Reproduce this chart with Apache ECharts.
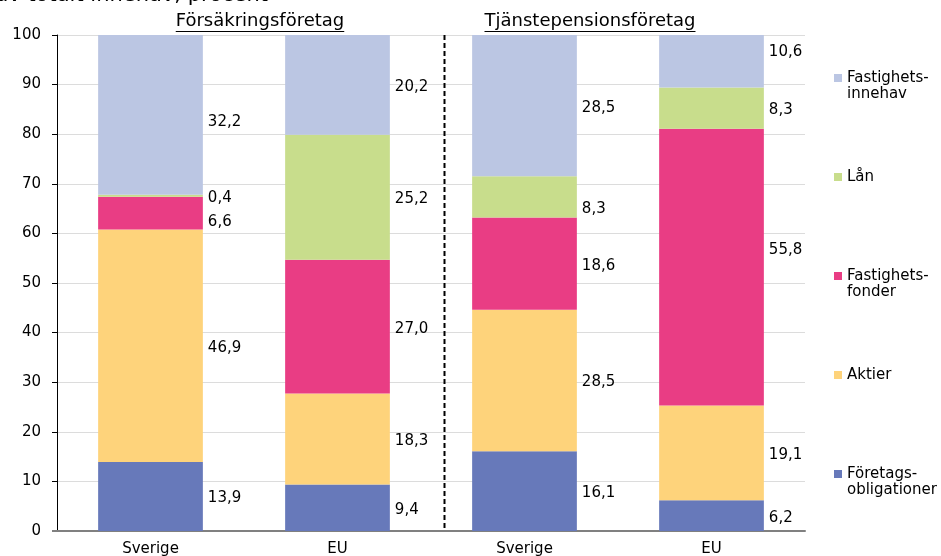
<!DOCTYPE html>
<html>
<head>
<meta charset="utf-8">
<script src="https://cdn.jsdelivr.net/npm/echarts@6/dist/echarts.min.js"></script>
<style>
  html, body { margin: 0; padding: 0; background: #fff; }
  #chart { width: 941px; height: 556px; }
</style>
</head>
<body>
<div id="chart"></div>
<script>
// Andel av totalt innehav, procent — försäkrings- och tjänstepensionsföretag
const categories = ['Sverige', 'EU', 'Sverige', 'EU'];
const groupTitles = ['Försäkringsföretag', 'Tjänstepensionsföretag'];
const yTicks = [0, 10, 20, 30, 40, 50, 60, 70, 80, 90, 100];

const foretagsobligationer = [13.9, 9.4, 16.1, 6.2];
const aktier = [46.9, 18.3, 28.5, 19.1];
const fastighetsfonder = [6.6, 27.0, 18.6, 55.8];
const lan = [0.4, 25.2, 8.3, 8.3];
const fastighetsinnehav = [32.2, 20.2, 28.5, 10.6];

const FONT = '"DejaVu Sans", Verdana, sans-serif';

// label nudges (px) so neighbouring value labels do not collide
const labelShift = {
  'Fastighetsfonder': [9, 2, 2, -17],
  'Lån': [2, 2, 12, 2],
  'Fastighetsinnehav': [7, 2, 2, -9]
};

function fmt(v) { return v.toFixed(1).replace('.', ','); }

function makeSeries(name, values, color) {
  const shifts = labelShift[name] || [2, 2, 2, 2];
  return {
    name: name,
    type: 'bar',
    stack: 'total',
    barWidth: '56%',
    itemStyle: { color: color },
    data: values.map((v, i) => ({
      value: v,
      label: { offset: [0, shifts[i]] }
    })),
    label: {
      show: true,
      position: 'right',
      distance: 5,
      color: '#000',
      fontFamily: FONT,
      fontSize: 15,
      formatter: p => fmt(p.value)
    }
  };
}

const chart = echarts.init(document.getElementById('chart'), null, { renderer: 'canvas' });

// legend labels: a leading blank line keeps the marker level with the first line
const legendText = {
  'Fastighetsinnehav': '\nFastighets-\ninnehav',
  'Fastighetsfonder': '\nFastighets-\nfonder',
  'Företagsobligationer': '\nFöretags-\nobligationer'
};

const option = {
  animation: false,
  backgroundColor: '#fff',
  grid: { left: 57, right: 136, top: 35, bottom: 25, containLabel: false, outerBoundsMode: 'none' },
  legend: {
    orient: 'vertical',
    left: 829,
    top: 49,
    itemWidth: 8,
    itemHeight: 8,
    itemGap: 67,
    icon: 'rect',
    textStyle: { fontFamily: FONT, fontSize: 15, color: '#000', lineHeight: 16 },
    selectedMode: false,
    data: ['Fastighetsinnehav', 'Lån', 'Fastighetsfonder', 'Aktier', 'Företagsobligationer'],
    formatter: name => legendText[name] || name
  },
  xAxis: {
    type: 'category',
    data: categories,
    axisLine: { show: true, lineStyle: { color: '#808080', width: 2 } },
    axisTick: { show: false },
    axisLabel: { color: '#000', fontFamily: FONT, fontSize: 15, margin: 11, interval: 0 },
    splitLine: { show: false }
  },
  yAxis: {
    type: 'value',
    min: yTicks[0],
    max: yTicks[yTicks.length - 1],
    interval: 10,
    axisLine: { show: true, lineStyle: { color: '#000', width: 1 } },
    axisTick: { show: true, length: 5, lineStyle: { color: '#000' } },
    axisLabel: { color: '#000', fontFamily: FONT, fontSize: 15, margin: 16 },
    splitLine: { show: true, lineStyle: { color: '#dcdcdc', width: 1 } }
  },
  series: [
    makeSeries('Företagsobligationer', foretagsobligationer, '#6779BA'),
    makeSeries('Aktier', aktier, '#FED37B'),
    makeSeries('Fastighetsfonder', fastighetsfonder, '#E93D84'),
    makeSeries('Lån', lan, '#C8DD8C'),
    makeSeries('Fastighetsinnehav', fastighetsinnehav, '#BBC6E3')
  ]
};

chart.setOption(option);

// decorations: dashed group divider, underlined group titles, top caption
function textWidth(text, font) {
  const c = document.createElement('canvas').getContext('2d');
  c.font = font;
  return c.measureText(text).width;
}

const p1 = chart.convertToPixel({ xAxisIndex: 0 }, 1);
const p2 = chart.convertToPixel({ xAxisIndex: 0 }, 2);
const yTop = chart.convertToPixel({ yAxisIndex: 0 }, 100);
const yBottom = chart.convertToPixel({ yAxisIndex: 0 }, 0);
const dividerX = Math.round(p1 + (p2 - p1) * 0.57) + 0.5;

const titleFont = '18px ' + FONT;
const titleCenters = [260, 590];
const graphics = [
  {
    type: 'line',
    shape: { x1: dividerX, y1: yTop, x2: dividerX, y2: yBottom },
    style: { stroke: '#000', lineWidth: 2, lineDash: [5, 3] },
    z: 10
  },
  {
    // the x axis line runs a few pixels past the value axis
    type: 'line',
    shape: { x1: 52, y1: yBottom, x2: 58, y2: yBottom },
    style: { stroke: '#808080', lineWidth: 2 },
    z: 1
  },
  {
    type: 'text',
    x: 268, y: -4,
    style: {
      text: 'Andel av totalt innehav, procent',
      font: '21px ' + FONT,
      fill: '#000',
      textAlign: 'right',
      textVerticalAlign: 'middle'
    }
  }
];
groupTitles.forEach((t, i) => {
  const w = textWidth(t, titleFont);
  const cx = titleCenters[i];
  graphics.push({
    type: 'text',
    x: cx, y: 21,
    style: { text: t, font: titleFont, fill: '#000', textAlign: 'center', textVerticalAlign: 'middle' }
  });
  graphics.push({
    type: 'line',
    shape: { x1: cx - w / 2, y1: 31.5, x2: cx + w / 2, y2: 31.5 },
    style: { stroke: '#000', lineWidth: 1 }
  });
});
chart.setOption({ graphic: graphics });
</script>
</body>
</html>
